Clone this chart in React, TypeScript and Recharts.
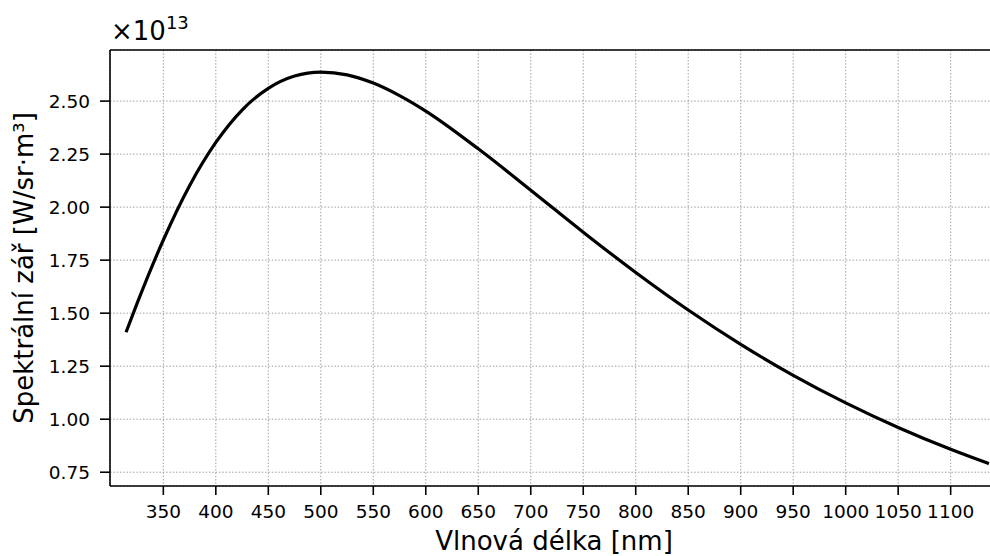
import { CartesianGrid, Line, LineChart, ReferenceLine, XAxis, YAxis } from "recharts";

// wavelength [nm] and spectral radiance [x1e13 W/sr·m³]
const WAVELENGTHS = [
  315, 325, 350, 375, 400, 425, 450, 475, 500, 525, 550, 575, 600, 650, 700,
  750, 800, 850, 900, 950, 1000, 1050, 1100, 1135,
];
const RADIANCE = [
  1.417, 1.546, 1.845, 2.101, 2.305, 2.458, 2.56, 2.618, 2.637, 2.624, 2.585,
  2.526, 2.453, 2.275, 2.08, 1.882, 1.692, 1.515, 1.353, 1.207, 1.077, 0.961,
  0.858, 0.793,
];
const X_TICKS = [350, 400, 450, 500, 550, 600, 650, 700, 750, 800, 850, 900, 950, 1000, 1050, 1100];
const Y_TICKS = [0.75, 1.0, 1.25, 1.5, 1.75, 2.0, 2.25, 2.5];

const X_MIN = 299.2;
const X_MAX = 1147;
const Y_MIN = 0.685;
const Y_MAX = 2.741;

const FONT = "DejaVu Sans";

const data = WAVELENGTHS.map((wavelength, i) => ({
  wavelength,
  radiance: RADIANCE[i],
}));

function XTick(props: any) {
  const { x, y, payload } = props;
  return (
    <text x={x} y={y} dy="0.71em" textAnchor="middle" fontFamily={FONT} fontSize={18.5} fill="#000">
      {payload.value}
    </text>
  );
}

function YTick(props: any) {
  const { x, y, payload } = props;
  return (
    <text x={x} y={y} dy="0.36em" textAnchor="end" fontFamily={FONT} fontSize={18.5} fill="#000">
      {Number(payload.value).toFixed(2)}
    </text>
  );
}

export default function App() {
  return (
    <div
      style={{
        position: "fixed",
        left: 0,
        top: 0,
        width: 990,
        height: 556,
        overflow: "hidden",
        background: "#fff",
      }}
    >
      <LineChart
        width={1010}
        height={556}
        data={data}
        margin={{ top: 50, right: 10, bottom: 0, left: 0 }}
      >
        <CartesianGrid stroke="#a0a0a0" strokeDasharray="1.5 1.8" strokeWidth={1} />
        <XAxis
          dataKey="wavelength"
          type="number"
          domain={[X_MIN, X_MAX]}
          ticks={X_TICKS}
          allowDataOverflow
          height={70}
          tickSize={9}
          tickMargin={10}
          tick={XTick}
          axisLine={{ stroke: "#000", strokeWidth: 1.6 }}
          tickLine={{ stroke: "#000", strokeWidth: 1.6 }}
        />
        <YAxis
          type="number"
          domain={[Y_MIN, Y_MAX]}
          ticks={Y_TICKS}
          allowDataOverflow
          width={110}
          tickSize={10}
          tickMargin={10}
          tick={YTick}
          axisLine={{ stroke: "#000", strokeWidth: 1.6 }}
          tickLine={{ stroke: "#000", strokeWidth: 1.6 }}
        />
        <ReferenceLine y={Y_MAX} stroke="#000" strokeWidth={1.6} />
        <Line
          dataKey="radiance"
          type="monotone"
          stroke="#000"
          strokeWidth={3.2}
          strokeLinecap="square"
          dot={false}
          isAnimationActive={false}
        />
      </LineChart>
      <svg
        width={990}
        height={556}
        style={{ position: "absolute", left: 0, top: 0, pointerEvents: "none" }}
      >
        <text x={111} y={39.5} fontFamily={FONT} fontSize={26} fill="#000">
          ×10
          <tspan dy={-11} fontSize={18}>
            13
          </tspan>
        </text>
        <text x={554} y={550} textAnchor="middle" fontFamily={FONT} fontSize={26} fill="#000">
          Vlnová délka [nm]
        </text>
        <text
          x={33}
          y={268}
          textAnchor="middle"
          fontFamily={FONT}
          fontSize={26}
          fill="#000"
          transform="rotate(-90 33 268)"
        >
          Spektrální zář [W/sr·m³]
        </text>
      </svg>
    </div>
  );
}
